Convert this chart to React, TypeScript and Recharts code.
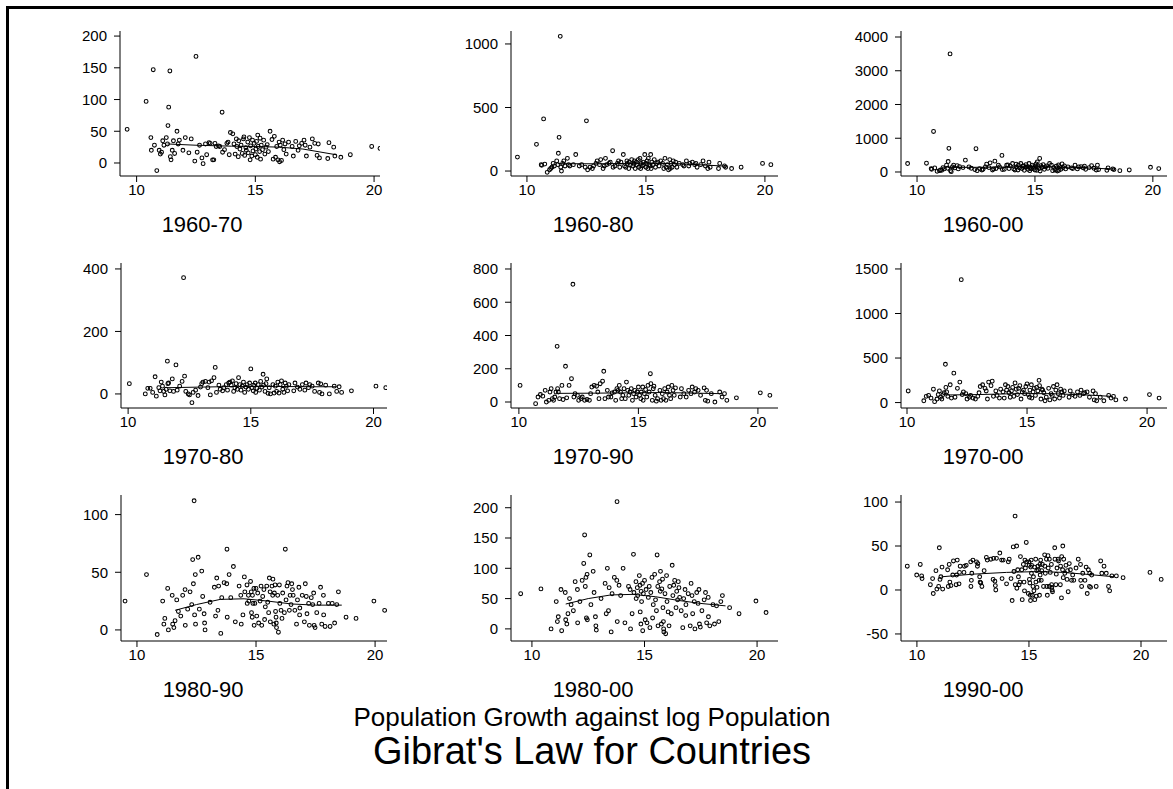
import React from 'react';
import { ScatterChart, Scatter, XAxis, YAxis } from 'recharts';

const FONT = '"Liberation Sans", Arial, Helvetica, sans-serif';

// log population in 1960, growth (%) over 1960-70, 1960-80, 1960-00
const logPop1960 = [
  9.6, 10.4, 10.6, 10.62, 10.7, 10.75, 10.85, 10.95, 11.0, 11.05,
  11.1, 11.15, 11.25, 11.3, 11.32, 11.35, 11.4, 11.42, 11.45, 11.5,
  11.55, 11.6, 11.7, 11.75, 11.8, 11.95, 12.05, 12.2, 12.3, 12.45,
  12.5, 12.55, 12.65, 12.75, 12.8, 12.9, 12.95, 13.05, 13.1, 13.2,
  13.25, 13.3, 13.35, 13.45, 13.5, 13.6, 13.62, 13.7, 13.8, 13.85,
  13.9, 13.95, 14.05, 14.1, 14.15, 14.2, 14.22, 14.28, 14.3, 14.35,
  14.4, 14.45, 14.5, 14.52, 14.55, 14.6, 14.62, 14.68, 14.7, 14.75,
  14.78, 14.8, 14.85, 14.88, 14.9, 14.95, 15.0, 15.02, 15.05, 15.08,
  15.1, 15.12, 15.18, 15.2, 15.22, 15.25, 15.3, 15.35, 15.4, 15.45,
  15.5, 15.55, 15.62, 15.7, 15.75, 15.8, 15.85, 15.9, 15.95, 16.0,
  16.02, 16.05, 16.1, 16.15, 16.2, 16.25, 16.3, 16.4, 16.55, 16.6,
  16.7, 16.8, 16.85, 16.95, 17.05, 17.1, 17.15, 17.3, 17.4, 17.5,
  17.6, 17.65, 17.7, 18.05, 18.1, 18.3, 18.35, 18.6, 19.0, 19.9, 20.25,
];
const growth6070 = [
  53, 97, 40, 20, 147, 28, -12, 20, 14, 17,
  35, 28, 40, 30, 59, 88, 145, 10, 5, 20,
  35, 15, 50, 30, 36, 20, 40, 16, 38, 3,
  168, 17, 28, 8, -1, 30, 13, 32, 31, 5,
  5, 31, 26, 27, 26, 80, 17, 21, 31, 33,
  13, 48, 46, 30, 14, 38, 26, 10, 35, 22,
  28, 15, 38, 41, 12, 24, 20, 33, 16, 40,
  5, 27, 11, 36, 19, 31, 13, 22, 34, 9,
  44, 26, 18, 39, 6, 28, 21, 36, 14, 25,
  29, 18, 50, 37, 6, 42, 9, 26, 5, 33,
  2, 28, 4, 36, 21, 30, 14, 33, 26, 11,
  34, 20, 27, 31, 36, 28, 11, 25, 38, 31,
  12, 30, 8, 7, 32, 25, 11, 9, 13, 26, 23,
];
const growth6080 = [
  110, 210, 50, 45, 410, 55, -10, 10, 20, 30,
  60, 40, 80, 50, 140, 265, 1060, 30, 0, 60,
  80, 40, 100, 50, 40, 50, 130, 40, 50, 30,
  395, 10, 30, 20, 40, 60, 80, 50, 90, 20,
  40, 100, 50, 60, 70, 160, 30, 40, 60, 80,
  30, 70, 130, 40, 30, 80, 60, 20, 70, 50,
  90, 40, 60, 80, 20, 70, 50, 90, 30, 100,
  20, 60, 40, 70, 50, 130, 30, 60, 80, 20,
  100, 50, 40, 130, 20, 70, 50, 90, 30, 60,
  70, 40, 80, 60, 20, 100, 30, 50, 10, 90,
  20, 60, 30, 80, 50, 70, 30, 60, 50, 40,
  80, 40, 60, 70, 50, 60, 30, 50, 80, 40,
  20, 70, 30, 20, 60, 40, 30, 20, 30, 60, 50,
];
const growth6000 = [
  250, 260, 100, 80, 1200, 120, 20, 40, 60, 50,
  130, 90, 200, 110, 310, 700, 3500, 40, 10, 150,
  200, 120, 190, 90, 160, 130, 350, 150, 110, 70,
  690, 40, 100, 60, 80, 150, 230, 130, 270, 60,
  90, 320, 100, 200, 150, 490, 70, 80, 200, 210,
  100, 180, 250, 90, 60, 230, 150, 60, 200, 120,
  250, 100, 180, 170, 50, 140, 220, 160, 80, 250,
  40, 130, 90, 200, 150, 110, 60, 170, 240, 50,
  300, 160, 100, 400, 30, 190, 140, 220, 80, 150,
  180, 110, 250, 200, 40, 130, 60, 170, 30, 210,
  50, 160, 80, 240, 130, 180, 90, 150, 120, 100,
  200, 90, 150, 160, 120, 170, 80, 130, 190, 110,
  60, 200, 70, 50, 120, 90, 70, 40, 60, 140, 100,
];

// log population in 1970, growth over 1970-80, 1970-90, 1970-00
const logPop1970 = [
  10.05, 10.7, 10.8, 10.9, 11.0, 11.1, 11.15, 11.25, 11.3, 11.35,
  11.4, 11.45, 11.5, 11.55, 11.6, 11.62, 11.65, 11.7, 11.8, 11.85,
  11.95, 12.0, 12.1, 12.2, 12.26, 12.3, 12.35, 12.45, 12.5, 12.6,
  12.65, 12.75, 12.85, 12.95, 13.0, 13.05, 13.15, 13.25, 13.3, 13.35,
  13.4, 13.5, 13.55, 13.6, 13.7, 13.75, 13.85, 13.9, 14.0, 14.05,
  14.1, 14.15, 14.2, 14.25, 14.3, 14.35, 14.4, 14.45, 14.5, 14.55,
  14.6, 14.65, 14.7, 14.75, 14.8, 14.85, 14.9, 14.95, 15.0, 15.05,
  15.1, 15.12, 15.18, 15.2, 15.25, 15.3, 15.35, 15.4, 15.45, 15.5,
  15.52, 15.58, 15.62, 15.65, 15.7, 15.75, 15.8, 15.9, 15.95, 16.0,
  16.05, 16.1, 16.15, 16.2, 16.25, 16.3, 16.35, 16.4, 16.45, 16.5,
  16.55, 16.75, 16.8, 16.9, 17.0, 17.1, 17.2, 17.25, 17.35, 17.4,
  17.5, 17.6, 17.75, 17.8, 17.85, 17.9, 18.05, 18.2, 18.4, 18.5,
  18.6, 18.7, 19.1, 20.1, 20.5,
];
const growth7080 = [
  33, 0, 18, 18, 5, 55, -7, 20, 10, 38,
  25, 8, -3, 15, 105, 33, 35, 10, 48, 8,
  93, 12, 25, 40, 372, 57, 8, 0, -3, -28,
  5, 12, -5, 22, 33, 38, 40, 20, 38, -3,
  42, 52, 85, 5, 28, 15, 10, 20, 30, 12,
  35, 38, 28, 42, 8, 20, 33, 15, 52, 30,
  12, 25, 38, 5, 22, 30, 15, 35, 80, 20,
  10, 28, 35, 5, 18, 30, 12, 40, 22, 63,
  28, 8, 33, 48, 2, 20, 0, 30, 3, 25,
  8, 38, 3, 30, 42, 15, 5, 35, 25, 10,
  30, 10, 35, 22, 15, 30, 12, 35, 20, 30,
  25, 8, 35, 5, 32, 0, 28, 0, 25, 8,
  23, 5, 10, 25, 20,
];
const growth7090 = [
  100, -10, 30, 45, 35, 70, 0, 10, 60, 80,
  20, 10, 30, 60, 335, 80, 60, 20, 100, 15,
  215, 25, 100, 140, 708, 30, 50, 40, 10, 20,
  30, 10, 15, 10, 50, 90, 100, 95, 60, 20,
  110, 125, 185, 20, 70, 30, 30, 55, 60, 10,
  80, 70, 100, 60, 20, 40, 80, 20, 120, 70,
  40, 60, 80, 10, 50, 70, 30, 60, 90, 40,
  20, 60, 90, 10, 50, 75, 30, 100, 60, 170,
  110, 10, 80, 95, 40, 5, 20, 70, 10, 50,
  20, 80, 10, 60, 90, 40, 20, 100, 70, 40,
  85, 30, 80, 50, 30, 70, 50, 90, 60, 80,
  70, 40, 85, 10, 70, 5, 50, 0, 60, 30,
  50, 10, 25, 55, 40,
];
const growth7000 = [
  130, 20, 70, 80, 50, 150, 10, 40, 90, 130,
  60, 40, 90, 110, 430, 170, 120, 70, 200, 50,
  330, 60, 160, 230, 1380, 90, 120, 100, 40, 60,
  80, 50, 40, 70, 110, 180, 200, 160, 130, 40,
  230, 190, 240, 70, 130, 80, 50, 150, 120, 50,
  200, 140, 180, 110, 60, 130, 170, 70, 220, 150,
  90, 160, 190, 40, 120, 140, 100, 180, 210, 90,
  60, 140, 200, 50, 120, 160, 80, 170, 130, 250,
  190, 40, 150, 140, 110, 20, 60, 160, 30, 100,
  80, 180, 40, 140, 200, 100, 50, 150, 120, 80,
  130, 60, 130, 90, 70, 120, 80, 140, 100, 110,
  120, 60, 130, 30, 100, 20, 60, 20, 80, 50,
  70, 30, 40, 90, 50,
];

// log population in 1980, growth over 1980-90, 1980-00
const logPop1980 = [
  9.5, 10.4, 10.85, 11.08, 11.13, 11.17, 11.29, 11.32, 11.48, 11.5,
  11.55, 11.6, 11.67, 11.74, 11.84, 11.92, 12.02, 12.03, 12.13, 12.23,
  12.3, 12.34, 12.37, 12.4, 12.42, 12.45, 12.46, 12.57, 12.62, 12.72,
  12.76, 12.82, 12.84, 12.86, 13.07, 13.25, 13.3, 13.35, 13.4, 13.43,
  13.52, 13.56, 13.66, 13.77, 13.78, 13.79, 13.87, 13.94, 14.05, 14.13,
  14.29, 14.36, 14.38, 14.45, 14.51, 14.53, 14.62, 14.63, 14.68, 14.7,
  14.77, 14.8, 14.81, 14.84, 14.85, 14.87, 14.91, 14.92, 14.95, 15.0,
  15.03, 15.07, 15.11, 15.17, 15.21, 15.24, 15.28, 15.33, 15.36, 15.39,
  15.45, 15.49, 15.53, 15.56, 15.59, 15.6, 15.67, 15.7, 15.71, 15.75,
  15.77, 15.8, 15.82, 15.84, 15.85, 15.86, 15.91, 15.94, 15.98, 16.0,
  16.05, 16.09, 16.12, 16.19, 16.23, 16.26, 16.3, 16.34, 16.4, 16.43,
  16.47, 16.5, 16.53, 16.56, 16.63, 16.7, 16.74, 16.8, 16.83, 16.84,
  16.94, 17.03, 17.07, 17.11, 17.14, 17.21, 17.24, 17.32, 17.38, 17.42,
  17.44, 17.48, 17.55, 17.65, 17.71, 17.76, 17.83, 17.84, 17.9, 18.04,
  18.11, 18.2, 18.3, 18.39, 18.46, 18.78, 19.2, 19.95, 20.4,
];
const growth8090 = [
  25, 48, -4, 25, 5, 10, 36, 0, 30, 5,
  2, 8, 26, 16, 12, 30, 35, 4, 18, 33,
  22, 61, 40, 112, 13, 48, 5, 63, 18, 51,
  29, 14, 6, 0, 24, 37, 12, 45, 17, 38,
  -3, 28, 41, 40, 70, 11, 48, 28, 55, 7,
  38, 30, 5, 13, 46, 33, 39, 23, 30, 25,
  42, 33, 15, 11, 30, 23, 36, 4, 23, 36,
  12, 32, 6, 25, 38, 4, 29, 35, 9, 20,
  38, 24, 15, 45, 33, 7, 38, 30, 44, 5,
  32, 39, 16, 11, 6, 2, 30, -2, 39, 23,
  17, 10, 32, 15, 70, 26, 38, 41, 17, 30,
  22, 40, 35, 30, 17, 5, 26, 37, 13, 19,
  30, 7, 40, 29, 14, 23, 4, 28, 22, 32,
  4, 2, 15, 23, 37, 5, 30, 13, 3, 23,
  3, 23, 6, 22, 33, 11, 10, 25, 17,
];
const growth8000 = [
  58, 66, 0, 45, 12, 20, 65, -3, 60, 15,
  8, 25, 50, 40, 30, 78, 65, 10, 45, 80,
  108, 155, 70, 85, 18, 90, 15, 122, 40, 95,
  60, 20, 5, -2, 50, 75, 25, 100, 30, 68,
  -5, 58, 85, 80, 210, 12, 72, 55, 100, 10,
  70, 65, 0, 25, 123, 60, 78, 50, 68, 55,
  88, 72, 28, 8, 62, 45, 75, -3, 58, 80,
  15, 65, 10, 52, 70, 2, 60, 85, 18, 40,
  90, 48, 30, 122, 70, 5, 78, 62, 95, 8,
  66, 82, 35, 12, 0, -5, 58, -8, 88, 45,
  28, 5, 70, 25, 105, 55, 72, 80, 35, 62,
  48, 78, 68, 52, 30, 2, 50, 65, 22, 40,
  58, 5, 75, 55, 25, 45, 0, 60, 42, 65,
  8, 3, 30, 48, 60, 10, 52, 20, 5, 40,
  8, 38, 12, 45, 55, 35, 25, 46, 27,
];

// [log population 1990, growth 1990-00]
const pop1990Growth: [number, number][] = [
  [9.57, 27], [9.99, 17], [10.15, 29], [10.21, 16], [10.23, 13], [10.6, 6], [10.7, 13], [10.73, -4], [10.85, 22], [10.89, 1],
  [10.97, 4], [11.0, 48], [11.03, 12], [11.07, 15], [11.12, 26], [11.15, 1], [11.37, 23], [11.4, 4], [11.44, 29], [11.47, 9],
  [11.52, 5], [11.6, 17], [11.63, 33], [11.75, 6], [11.77, 17], [11.8, 34], [11.88, 7], [11.9, 20], [11.93, 27], [12.1, 20],
  [12.12, 27], [12.2, 28], [12.4, 32], [12.41, 4], [12.43, 11], [12.45, 19], [12.5, 34], [12.66, 32], [12.7, 27], [12.72, 30],
  [12.8, 15], [12.82, 9], [12.85, 8], [12.9, 4], [13.0, 22], [13.1, 37], [13.14, 34], [13.3, 35], [13.4, 12], [13.42, 36],
  [13.48, 10], [13.5, 5], [13.52, 0], [13.55, 36], [13.7, 42], [13.78, 34], [13.8, 13], [13.85, 34], [14.0, 7], [14.08, 32],
  [14.12, 35], [14.2, 13], [14.25, -12], [14.3, 49], [14.33, 21], [14.38, 84], [14.39, 6], [14.45, 50], [14.46, 2], [14.5, 23],
  [14.53, 15], [14.56, 6], [14.6, 9], [14.62, 38], [14.68, 23], [14.7, -11], [14.75, 29], [14.78, 9], [14.8, -1], [14.82, 34],
  [14.84, 25], [14.88, 54], [14.9, 32], [14.97, -4], [15.0, 32], [15.01, 28], [15.02, 12], [15.04, 8], [15.06, -6], [15.07, -12],
  [15.08, 26], [15.1, 34], [15.11, 19], [15.12, 28], [15.15, -6], [15.18, 4], [15.2, 15], [15.22, -1], [15.25, 26], [15.26, -11],
  [15.3, 35], [15.31, 9], [15.33, -7], [15.35, 22], [15.36, 3], [15.4, 27], [15.42, 23], [15.45, 11], [15.47, -6], [15.49, 29],
  [15.5, 17], [15.52, 34], [15.55, 11], [15.57, 22], [15.6, 29], [15.65, 4], [15.7, 40], [15.71, 27], [15.73, 19], [15.78, 35],
  [15.8, 4], [15.82, -6], [15.85, 39], [15.86, 25], [15.9, 4], [15.91, 35], [15.95, 20], [16.0, 29], [16.01, 6], [16.02, 3],
  [16.03, 0], [16.05, -2], [16.15, 48], [16.16, 35], [16.2, 6], [16.22, 18], [16.25, 25], [16.3, 35], [16.32, 33], [16.4, 6],
  [16.41, 27], [16.45, -9], [16.46, 38], [16.5, 23], [16.51, 50], [16.53, 14], [16.55, 35], [16.6, 19], [16.65, 28], [16.7, 12],
  [16.72, 22], [16.75, -2], [16.8, 30], [16.85, 23], [16.9, 11], [16.95, 17], [17.0, 11], [17.1, 25], [17.2, 35], [17.3, 29],
  [17.31, 11], [17.35, 4], [17.4, 19], [17.5, 11], [17.55, 26], [17.6, -4], [17.65, 23], [17.7, 4], [17.71, 19], [17.75, 3],
  [17.8, 17], [18.0, 4], [18.2, 33], [18.25, 19], [18.35, 27], [18.45, 19], [18.55, 4], [18.6, -1], [18.7, 16], [18.9, 16],
  [19.2, 14], [20.4, 20], [20.9, 12],
];

// lowess smooths
const fit6070: [number, number][] = [[11.3, 30], [12.5, 28], [14, 26.5], [15, 26], [16, 25], [17, 22], [18.4, 13]];
const fit6080: [number, number][] = [[11.3, 58], [13, 57], [15, 62], [16.5, 57], [18.4, 38]];
const fit6000: [number, number][] = [[11.3, 135], [13, 140], [15, 160], [16.5, 140], [18.4, 85]];
const fit7080: [number, number][] = [[11.6, 20], [13, 22], [14.5, 24], [16, 24], [17.5, 23], [18.5, 23]];
const fit7090: [number, number][] = [[11.6, 52], [13, 53], [14.5, 55], [16, 57], [17.5, 53], [18.5, 50]];
const fit7000: [number, number][] = [[11.6, 85], [13, 90], [14.5, 100], [16, 100], [17.5, 85], [18.5, 70]];
const fit8090: [number, number][] = [[11.6, 17], [12.5, 22], [13.5, 26.5], [14.5, 27], [15.5, 25], [16.5, 22.5], [17.5, 21.5], [18.6, 21.5]];
const fit8000: [number, number][] = [[11.5, 41], [12.5, 50], [13.5, 56], [14.5, 57], [15.5, 53], [16.5, 47], [17.5, 42], [18.6, 38]];
const fit9000: [number, number][] = [[11.1, 15], [12.5, 18], [14, 20], [15.5, 21], [16.5, 20], [17.5, 18], [18.8, 15]];

type Pt = { x: number; y: number };
const zip = (xs: number[], ys: number[]): Pt[] => xs.map((x, i) => ({ x, y: ys[i] }));
const pairs = (p: [number, number][]): Pt[] => p.map(([x, y]) => ({ x, y }));

const Dot = (props: any) => {
  const { cx, cy } = props;
  if (cx == null || cy == null) return <g />;
  return <circle cx={cx} cy={cy} r={1.9} fill="none" stroke="#000" strokeWidth={1.05} />;
};
const NoDot = () => <g />;

interface PanelDef {
  title: string;
  points: Pt[];
  fit: Pt[];
  xDomain: [number, number];
  yDomain: [number, number];
  yTicks: number[];
  left: number;
  right: number;
  top: number;
  bottom: number;
}

const ROW_TOP = [31, 263, 495];
const ROW_BOTTOM = [176, 408, 641];

const panels: PanelDef[] = [
  { title: '1960-70', points: zip(logPop1960, growth6070), fit: pairs(fit6070), xDomain: [9.3, 20.25], yDomain: [-20.5, 208], yTicks: [0, 50, 100, 150, 200], left: 120, right: 380, top: ROW_TOP[0], bottom: ROW_BOTTOM[0] },
  { title: '1960-80', points: zip(logPop1960, growth6080), fit: pairs(fit6080), xDomain: [9.33, 20.55], yDomain: [-39, 1102], yTicks: [0, 500, 1000], left: 511, right: 778, top: ROW_TOP[0], bottom: ROW_BOTTOM[0] },
  { title: '1960-00', points: zip(logPop1960, growth6000), fit: pairs(fit6000), xDomain: [9.32, 20.6], yDomain: [-119, 4178], yTicks: [0, 1000, 2000, 3000, 4000], left: 901, right: 1167, top: ROW_TOP[0], bottom: ROW_BOTTOM[0] },
  { title: '1970-80', points: zip(logPop1970, growth7080), fit: pairs(fit7080), xDomain: [9.71, 20.55], yDomain: [-45, 419], yTicks: [0, 200, 400], left: 121, right: 387, top: ROW_TOP[1], bottom: ROW_BOTTOM[1] },
  { title: '1970-90', points: zip(logPop1970, growth7090), fit: pairs(fit7090), xDomain: [9.67, 20.84], yDomain: [-36, 836], yTicks: [0, 200, 400, 600, 800], left: 511, right: 778, top: ROW_TOP[1], bottom: ROW_BOTTOM[1] },
  { title: '1970-00', points: zip(logPop1970, growth7000), fit: pairs(fit7000), xDomain: [9.75, 20.83], yDomain: [-61, 1567], yTicks: [0, 500, 1000, 1500], left: 901, right: 1167, top: ROW_TOP[1], bottom: ROW_BOTTOM[1] },
  { title: '1980-90', points: zip(logPop1980, growth8090), fit: pairs(fit8090), xDomain: [9.33, 20.5], yDomain: [-9.6, 117], yTicks: [0, 50, 100], left: 121, right: 387, top: ROW_TOP[2], bottom: ROW_BOTTOM[2] },
  { title: '1980-00', points: zip(logPop1980, growth8000), fit: pairs(fit8000), xDomain: [9.07, 20.93], yDomain: [-20, 221], yTicks: [0, 50, 100, 150, 200], left: 511, right: 778, top: ROW_TOP[2], bottom: ROW_BOTTOM[2] },
  { title: '1990-00', points: pairs(pop1990Growth), fit: pairs(fit9000), xDomain: [9.29, 21.16], yDomain: [-58, 108], yTicks: [-50, 0, 50, 100], left: 901, right: 1167, top: ROW_TOP[2], bottom: ROW_BOTTOM[2] },
];

const YW = 60;
const MT = 10;
const MR = 6;
const XH = 30;

function Panel({ p }: { p: PanelDef }) {
  const width = p.right - p.left + YW + MR;
  const height = p.bottom - p.top + MT + XH;
  const tickStyle = { fill: '#000', fontSize: 15, fontFamily: FONT };
  return (
    <div style={{ position: 'absolute', left: p.left - YW, top: p.top - MT, width, height }}>
      <ScatterChart width={width} height={height} margin={{ top: MT, right: MR, bottom: 0, left: 0 }}>
        <XAxis
          type="number"
          dataKey="x"
          domain={p.xDomain}
          ticks={[10, 15, 20]}
          interval={0}
          allowDataOverflow
          height={XH}
          tickSize={6}
          tickMargin={2}
          axisLine={{ stroke: '#000', strokeWidth: 1 }}
          tickLine={{ stroke: '#000', strokeWidth: 1 }}
          tick={tickStyle}
        />
        <YAxis
          type="number"
          dataKey="y"
          domain={p.yDomain}
          ticks={p.yTicks}
          interval={0}
          allowDataOverflow
          width={YW}
          tickSize={6}
          tickMargin={7}
          axisLine={{ stroke: '#000', strokeWidth: 1 }}
          tickLine={{ stroke: '#000', strokeWidth: 1 }}
          tick={tickStyle}
        />
        <Scatter data={p.points} shape={Dot} isAnimationActive={false} />
        <Scatter
          data={p.fit}
          shape={NoDot}
          line={{ stroke: '#000', strokeWidth: 1 }}
          lineType="joint"
          isAnimationActive={false}
        />
      </ScatterChart>
    </div>
  );
}

export default function App() {
  return (
    <div
      style={{
        position: 'absolute',
        left: 0,
        top: 0,
        width: 1173,
        height: 789,
        overflow: 'hidden',
        background: '#fff',
        fontFamily: FONT,
      }}
    >
      <div
        style={{
          position: 'absolute',
          left: 6,
          top: 6,
          width: 1170,
          height: 786,
          borderTop: '3px solid #000',
          borderLeft: '3px solid #000',
          boxSizing: 'border-box',
        }}
      />
      {panels.map((p) => (
        <Panel key={p.title} p={p} />
      ))}
      <svg
        width={1173}
        height={789}
        style={{ position: 'absolute', left: 0, top: 0, pointerEvents: 'none' }}
      >
        {panels.map((p) => (
          <text
            key={p.title}
            x={p.left + 82}
            y={p.bottom + 56}
            textAnchor="middle"
            fontSize={22}
            fontFamily={FONT}
            fill="#000"
          >
            {p.title}
          </text>
        ))}
        <text x={592} y={726} textAnchor="middle" fontSize={26} fontFamily={FONT} fill="#000">
          Population Growth against log Population
        </text>
        <text x={592} y={764} textAnchor="middle" fontSize={38} fontFamily={FONT} fill="#000">
          Gibrat's Law for Countries
        </text>
      </svg>
    </div>
  );
}
